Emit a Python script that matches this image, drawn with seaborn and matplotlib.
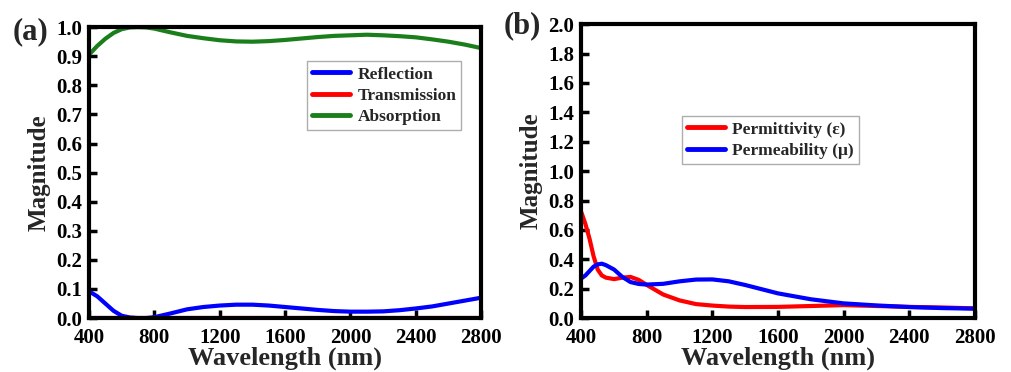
import numpy as np
import pandas as pd
import matplotlib
matplotlib.use("Agg")
import matplotlib.pyplot as plt
import seaborn as sns

# ---- data (a) ----
wl_a = [400, 450, 500, 550, 600, 650, 700, 750, 800, 900, 1000, 1100, 1200, 1300, 1400,
        1500, 1600, 1700, 1800, 1900, 2000, 2100, 2200, 2300, 2400, 2500, 2600, 2700, 2800]
reflection = [0.092, 0.075, 0.05, 0.025, 0.008, 0.002, 0.0, 0.0, 0.003, 0.016, 0.030, 0.038, 0.043,
              0.046, 0.046, 0.043, 0.038, 0.033, 0.028, 0.024, 0.022, 0.022, 0.023, 0.027, 0.033,
              0.040, 0.050, 0.060, 0.070]
transmission = [0.0] * len(wl_a)
absorption = [0.905, 0.935, 0.96, 0.98, 0.993, 0.999, 1.0, 0.999, 0.995, 0.982, 0.970, 0.962, 0.955,
              0.951, 0.950, 0.952, 0.956, 0.961, 0.966, 0.970, 0.972, 0.974, 0.972, 0.969, 0.965,
              0.958, 0.950, 0.940, 0.928]

# ---- data (b) ----
wl_b = [400, 425, 450, 475, 500, 525, 550, 600, 650, 700, 750, 800, 900, 1000, 1100, 1200, 1300,
        1400, 1600, 1800, 2000, 2200, 2400, 2600, 2800]
permittivity = [0.72, 0.64, 0.54, 0.42, 0.33, 0.29, 0.275, 0.265, 0.275, 0.28, 0.26, 0.225, 0.16,
                0.12, 0.095, 0.085, 0.078, 0.075, 0.076, 0.082, 0.088, 0.082, 0.076, 0.072, 0.066]
permeability = [0.27, 0.29, 0.32, 0.35, 0.365, 0.37, 0.36, 0.33, 0.28, 0.245, 0.232, 0.228, 0.233,
                0.25, 0.262, 0.263, 0.250, 0.225, 0.168, 0.128, 0.10, 0.086, 0.075, 0.068, 0.064]

sns.set_theme(style="ticks")
plt.rcParams['font.family'] = ['Liberation Serif', 'DejaVu Serif']
plt.rcParams['font.weight'] = 'bold'
plt.rcParams['axes.labelweight'] = 'bold'

fig = plt.figure(figsize=(10.11, 3.72), dpi=100)
ax1 = fig.add_axes([0.088, 0.145, 0.388, 0.782])
ax2 = fig.add_axes([0.575, 0.145, 0.389, 0.790])

df_a = pd.DataFrame({
    'Wavelength': wl_a * 3,
    'Magnitude': reflection + transmission + absorption,
    'Series': ['Reflection'] * len(wl_a) + ['Transmission'] * len(wl_a) + ['Absorption'] * len(wl_a),
})
df_b = pd.DataFrame({
    'Wavelength': wl_b * 2,
    'Magnitude': permittivity + permeability,
    'Series': ['Permittivity (ε)'] * len(wl_b) + ['Permeability (μ)'] * len(wl_b),
})

sns.lineplot(data=df_a, x='Wavelength', y='Magnitude', hue='Series', ax=ax1,
             palette={'Reflection': '#0000ff', 'Transmission': '#ff0000', 'Absorption': '#1a7f1a'},
             linewidth=3, legend=True)
sns.lineplot(data=df_b, x='Wavelength', y='Magnitude', hue='Series', ax=ax2,
             palette={'Permittivity (ε)': '#ff0000', 'Permeability (μ)': '#0000ff'},
             linewidth=3, legend=True)

for ax, ymax, ystep in [(ax1, 1.0, 0.1), (ax2, 2.0, 0.2)]:
    ax.set_xlim(400, 2800)
    ax.set_ylim(0, ymax)
    ax.set_xticks(np.arange(400, 2801, 400))
    ax.set_yticks(np.round(np.arange(0, ymax + 1e-9, ystep), 1))
    ax.set_yticklabels([f"{v:.1f}" for v in np.arange(0, ymax + 1e-9, ystep)])
    ax.tick_params(direction='in', length=6, width=2.5, labelsize=15, colors='black')
    ax.tick_params(axis='x', pad=7)
    ax.tick_params(axis='y', pad=5)
    for lab in ax.get_xticklabels() + ax.get_yticklabels():
        lab.set_fontweight('bold')
    for s in ax.spines.values():
        s.set_visible(True)
        s.set_linewidth(3)
        s.set_color('black')
    ax.set_xlabel('Wavelength (nm)', fontsize=19, fontweight='bold', labelpad=-1)
    ax.set_ylabel('Magnitude', fontsize=18, fontweight='bold', labelpad=4)

leg1 = ax1.legend(loc='upper left', bbox_to_anchor=(0.556, 0.883), borderaxespad=0,
                  fancybox=False, edgecolor='#999999', prop={'weight': 'bold', 'size': 12.5},
                  handlelength=2.2, labelspacing=0.3, borderpad=0.3, handletextpad=0.4)
leg2 = ax2.legend(loc='upper left', bbox_to_anchor=(0.256, 0.687), borderaxespad=0,
                  fancybox=False, edgecolor='#999999', prop={'weight': 'bold', 'size': 12.5},
                  handlelength=2.2, labelspacing=0.3, borderpad=0.3, handletextpad=0.4)
for leg in (leg1, leg2):
    leg.get_frame().set_linewidth(1)
    for l in leg.get_lines():
        l.set_linewidth(3.5)

fig.text(0.012, 0.915, '(a)', fontsize=22, fontweight='bold', va='center', ha='left')
fig.text(0.498, 0.93, '(b)', fontsize=22, fontweight='bold', va='center', ha='left')

fig.savefig('out.png', dpi=100)
